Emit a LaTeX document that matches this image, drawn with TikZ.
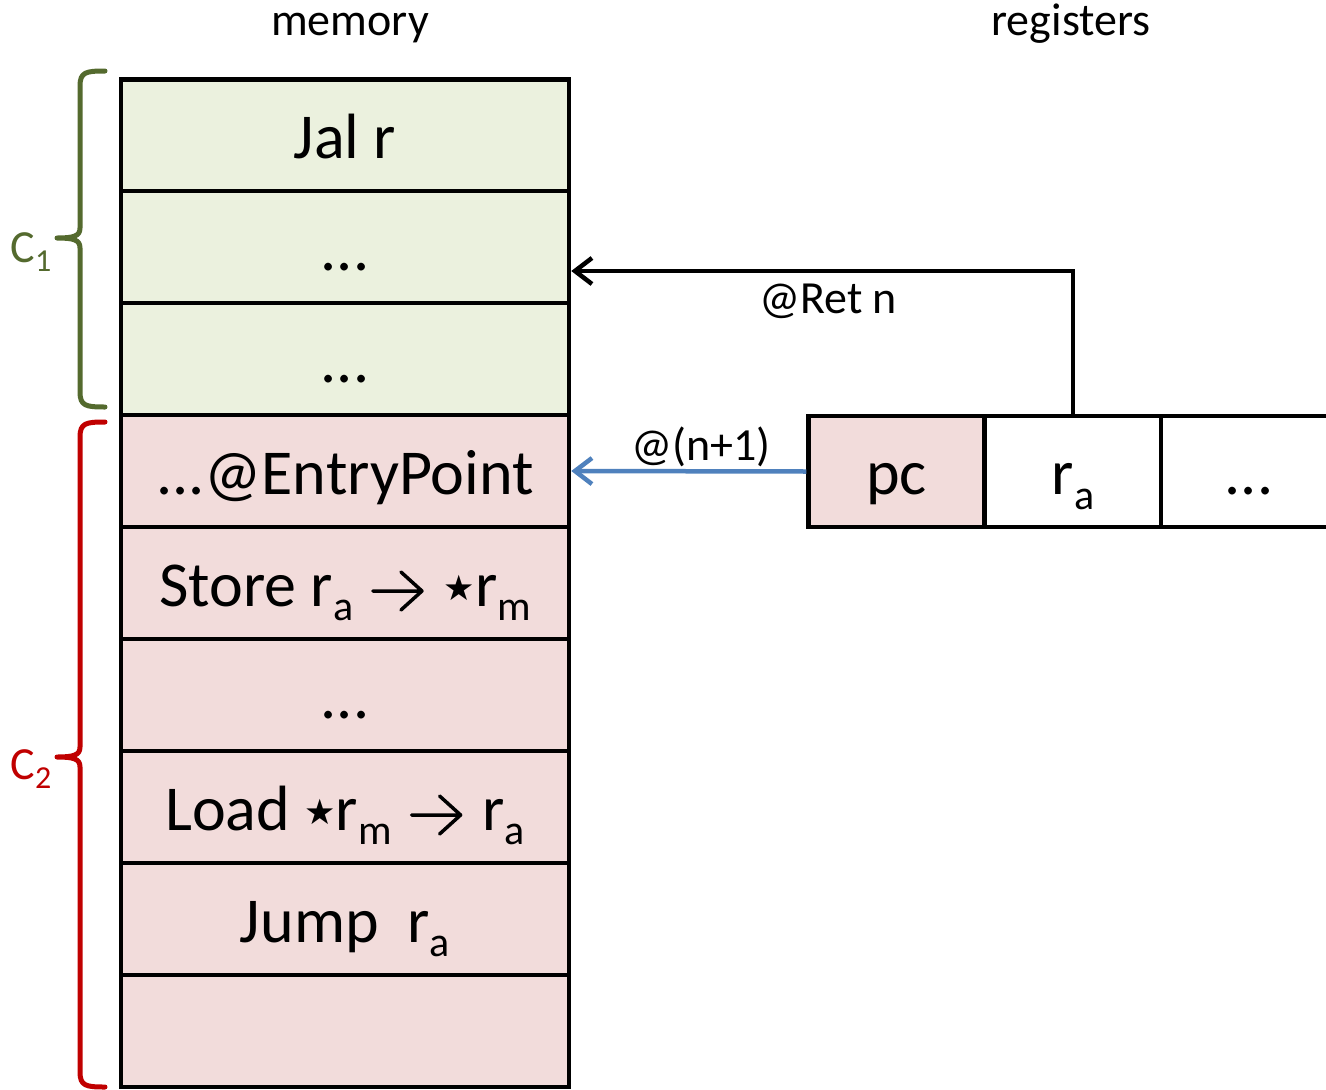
\documentclass[tikz,border=0pt]{standalone}
\usepackage{fontspec}
\setmainfont{Carlito}
\newfontfamily\symfont{DejaVu Sans}
\usetikzlibrary{arrows.meta}
\definecolor{memgreen}{RGB}{235,241,222}
\definecolor{mempink}{RGB}{242,220,219}
\definecolor{bracegreen}{RGB}{84,106,46}
\definecolor{bracered}{RGB}{192,0,0}
\definecolor{arrowblue}{RGB}{79,129,189}
\newcommand\lsub[1]{\raisebox{-0.23em}{\fontsize{42}{42}\selectfont #1}}
\newcommand\ssub[1]{\raisebox{-0.2em}{\fontsize{32}{32}\selectfont #1}}
\newcommand\bigtxt{\fontsize{64}{70}\selectfont}
\newcommand\smalltxt{\fontsize{46}{50}\selectfont}
\newcommand\tarr{\hspace{18pt}\tikz[baseline=0pt,x=1pt,y=1pt]{\draw[line width=3.5pt,line cap=round,line join=round] (0,15)--(49,15) (28,34)--(49,15)--(28,-4);}\hspace{20pt}}
\newcommand\tstar{\raisebox{6pt}{\symfont\fontsize{35}{35}\selectfont ★}\hspace{0pt}}
\begin{document}
\begin{tikzpicture}[x=1pt,y=-1pt,
  cell/.style={draw=black, line width=4.5pt, minimum width=448pt, minimum height=112pt,
    inner sep=0pt, text height=62pt, text depth=16pt, font=\bigtxt},
  gcell/.style={cell, fill=memgreen},
  pcell/.style={cell, fill=mempink},
  reg/.style={draw=black, line width=4.5pt, minimum width=176pt, minimum height=111pt,
    inner sep=0pt, text height=62pt, text depth=16pt, font=\bigtxt},
  lab/.style={font=\smalltxt, inner sep=0pt, anchor=base},
  conn/.style={line width=4.5pt, -{Straight Barb[length=17pt,width=26pt,line width=4.5pt]}},
  bracepath/.style={line width=5pt, line cap=round, line join=round},
]
\useasboundingbox (0,0) rectangle (1326,1090);

% headings
\node[lab] (hmem) at (350,35) {memory};
\node[lab] (hreg) at (1071,35) {registers};

% memory cells
\node[gcell] (m1) at (345,135.5) {Jal r};
\node[gcell] (m2) at (345,247) {...};
\node[gcell] (m3) at (345,359) {...};
\node[pcell] (m4) at (345,471) {...@EntryPoint};
\node[pcell] (m5) at (345,583) {Store r\lsub{a}\tarr\tstar r\lsub{m}};
\node[pcell] (m6) at (345,695) {...};
\node[pcell] (m7) at (345,807) {Load \tstar r\lsub{m}\tarr r\lsub{a}};
\node[pcell] (m8) at (345,919) {Jump\hspace{0.45em}r\lsub{a}};
\node[pcell] (m9) at (345,1031) {};

% registers
\node[reg, fill=mempink] (pc) at (896.5,471.5) {pc};
\node[reg, fill=white] (ra) at (1073,471.5) {r\lsub{a}};
\node[reg, fill=white] (r3) at (1249,471.5) {...};

% connectors
\draw[conn] (ra.north) |- ([yshift=-24pt]m2.east);
\node[lab] (retlab) at (828,313) {@Ret n};
\draw[conn, draw=arrowblue] (pc.west) -- (m4.east);
\node[lab] (nlab) at (701,460) {@(n+1)};

% braces
\draw[bracepath, draw=bracegreen] (105,71) .. controls (86,71) and (80,72) .. (80,86) -- (80,228)
  .. controls (80,236) and (74,238) .. (57,238) .. controls (74,238) and (80,240) .. (80,248)
  -- (80,392) .. controls (80,406) and (86,407) .. (105,407);
\node[lab, text=bracegreen] (c1) at (31,262) {C\ssub{1}};
\draw[bracepath, draw=bracered] (105,422) .. controls (86,422) and (80,423) .. (80,437) -- (80,747)
  .. controls (80,755) and (74,757) .. (57,757) .. controls (74,757) and (80,759) .. (80,767)
  -- (80,1072) .. controls (80,1086) and (86,1087) .. (105,1087);
\node[lab, text=bracered] (c2) at (31,779) {C\ssub{2}};
\end{tikzpicture}
\end{document}
